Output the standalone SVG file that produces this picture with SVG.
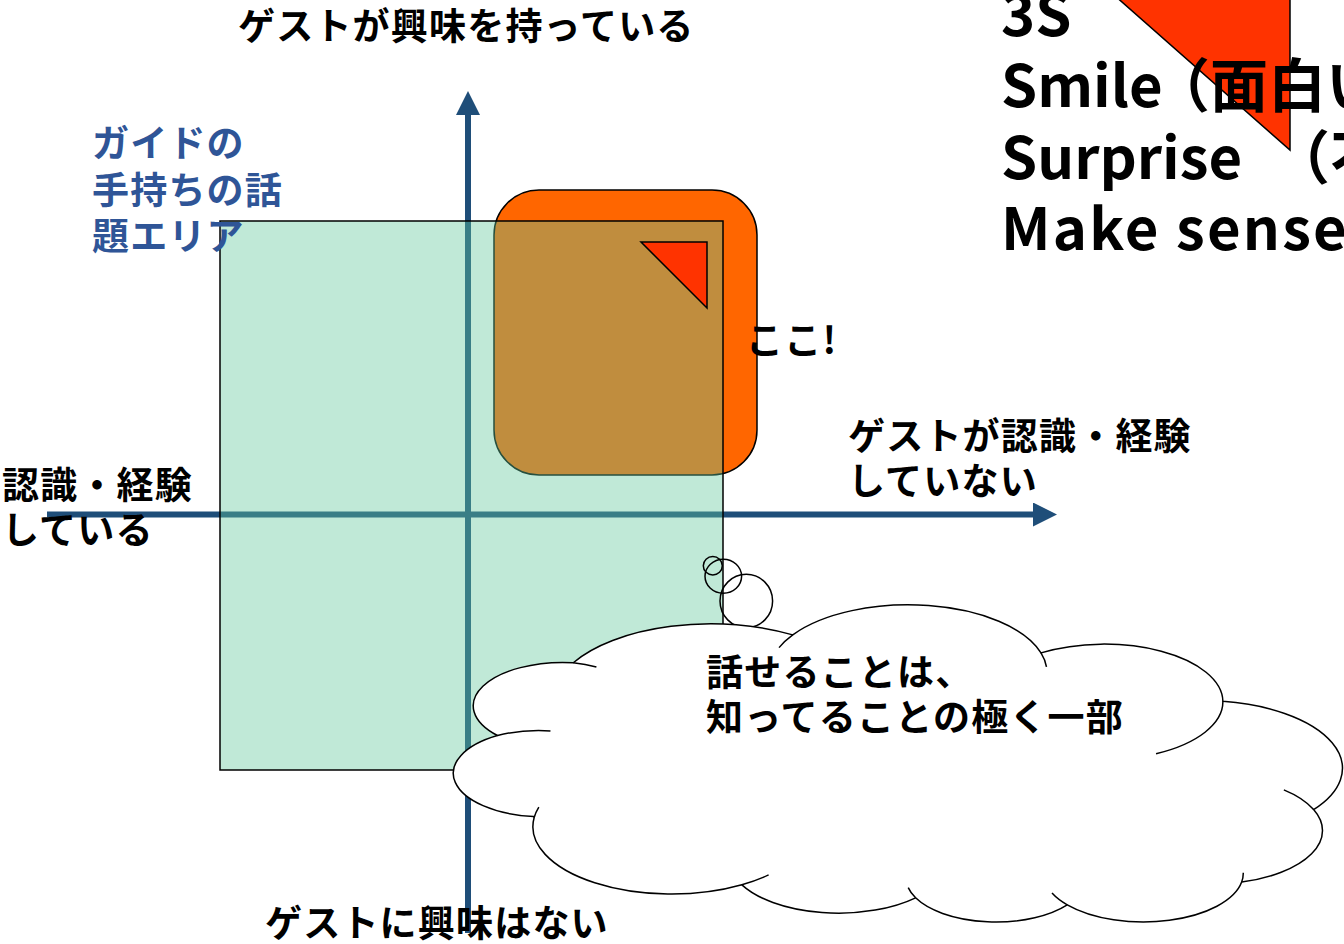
<svg xmlns="http://www.w3.org/2000/svg" width="1344" height="944" viewBox="0 0 1344 944">
<style>
.lbl{font-family:"Noto Sans CJK JP","Noto Sans",sans-serif;font-weight:bold;font-size:37px;fill:#000;letter-spacing:1.2px}
.blue{fill:#2F5597}
.big{font-family:"Noto Sans CJK JP","Noto Sans",sans-serif;font-weight:bold;font-size:58px;fill:#000}
.ln{stroke:#000;stroke-width:1.5;vector-effect:non-scaling-stroke}
.axis{stroke:#1F4E79;stroke-width:6;fill:none}
</style>
<defs>
<marker id="ah" markerUnits="userSpaceOnUse" markerWidth="24" markerHeight="24" refX="0" refY="11" orient="auto" viewBox="0 0 22 22">
<path d="M0,0 L22,11 L0,22 Z" fill="#1F4E79"/>
</marker>
</defs>
<rect width="1344" height="944" fill="#fff"/>
<g id="connectors">
<line class="axis" x1="47" y1="514.5" x2="1033" y2="514.5" marker-end="url(#ah)"/>
<line class="axis" x1="468" y1="933" x2="468" y2="115" marker-end="url(#ah)"/>
</g>
<g id="target-area">
<rect x="494" y="190" width="263" height="285" rx="45" ry="45" fill="#FF6600" class="ln"/>
</g>
<g id="guide-area">
<rect x="220" y="221" width="503" height="549" fill="#61C99A" fill-opacity="0.4" class="ln"/>
</g>
<g id="small-triangle">
<polygon points="641,242 707,242 707,308" fill="#FF3300" class="ln"/>
</g>
<g id="labels">
<text class="lbl" x="238" y="39.5">ゲストが興味を持っている</text>
<text class="lbl" x="265" y="937">ゲストに興味はない</text>
<text class="lbl" x="2" y="499">認識・経験</text>
<text class="lbl" x="2" y="544">している</text>
<text class="lbl" x="848" y="450">ゲストが認識・経験</text>
<text class="lbl" x="848" y="495">していない</text>
<text class="lbl" x="746" y="354">ここ!</text>
<text class="lbl blue" x="92" y="157">ガイドの</text>
<text class="lbl blue" x="92" y="204">手持ちの話</text>
<text class="lbl blue" x="92" y="250">題エリア</text>
</g>
<g id="cloud">
<ellipse cx="712.8" cy="565.8" rx="9.5" ry="9.2" fill="none" class="ln"/>
<ellipse cx="723.3" cy="576.3" rx="18.3" ry="17" fill="none" class="ln"/>
<ellipse cx="746.3" cy="601" rx="26.3" ry="26.7" fill="none" class="ln"/>
<g transform="translate(454,923) scale(0.020556,-0.007338)">
<path class="ln" fill="#fff" d="M3900,14370 A6753,9190 0 0 1 14005.1,5202.1 A5333,7267 0 0 1 22456.1,3432.1 A4365,5945 0 0 1 29833,2480.9 A4857,6595 0 0 1 38318.1,5576.1 A5333,7273 0 0 1 41818.4,15459.6 A6775,9220 0 0 1 37404.3,30203 A5785,7867 0 0 1 28555.9,36813.1 A6752,9215 0 0 1 16480.4,39263.8 A7720,10543 0 0 1 5804.8,35469.7 A4360,5918 0 0 1 2113.5,25548 A4345,5945 0 0 1 3863.5,14504.3 Z"/>
<path class="ln" fill="none" d="M4693,26177 A4345,5945 0 0 1 2113.5,25548 M6928,34899 A4360,5918 0 0 1 5804.8,35469.7 M16480.4,39263.8 A6752,9215 0 0 1 15812.5,37524.1 M28822.5,34903.8 A6752,9215 0 0 1 28555.9,36813.1 M34152.9,23067.3 A5785,7867 0 0 1 37404.3,30203 M41818.4,15459.6 A5333,7273 0 0 1 40370.6,18135.4 M38318.1,5576.1 A4857,6595 0 0 1 38394.7,6839.7 M29091.4,4092.5 A4857,6595 0 0 1 29833,2480.9 M22096.9,4822 A4365,5945 0 0 1 22456.1,3432.1 M14005.1,5202.1 A6753,9190 0 0 1 15305,6550.5 M4126.8,15788.8 A6753,9190 0 0 1 3900,14370"/>
</g>
<text class="lbl" x="706" y="686">話せることは、</text>
<text class="lbl" x="706" y="731">知ってることの極く一部</text>
</g>
<g id="three-s">
<polygon points="1097,-20 1290,-20 1290,150" fill="#FF3300" class="ln"/>
<text class="big" x="1001" y="35.5">3S</text>
<text class="big" x="1001" y="107">Smile<tspan x="1152">（面白い</tspan></text>
<text class="big" x="1001" y="178.5">Surprise<tspan x="1272">（不</tspan></text>
<text class="big" x="1001" y="250" letter-spacing="2.2">Make sense</text>
</g>
</svg>
